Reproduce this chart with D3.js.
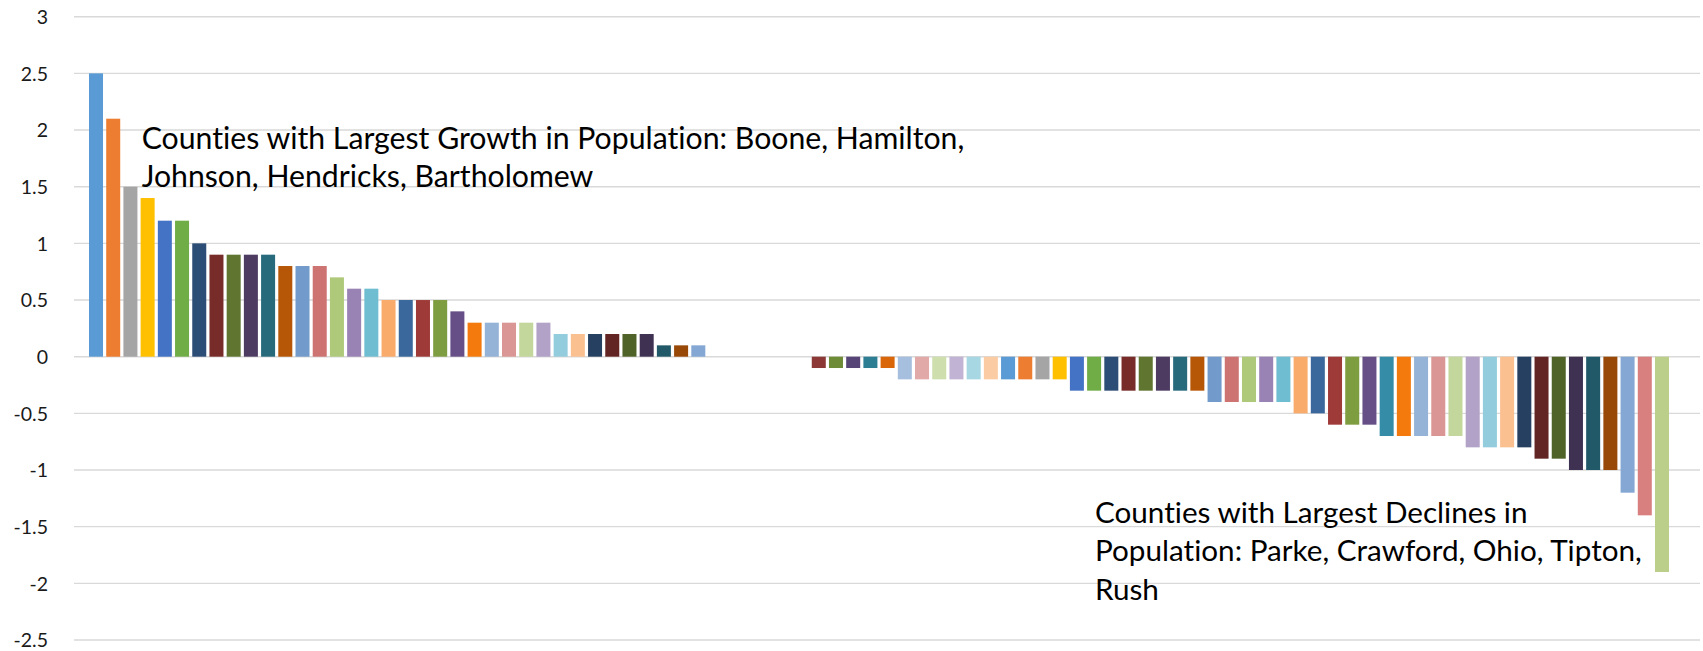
<!DOCTYPE html>
<html>
<head>
<meta charset="utf-8">
<script src="https://cdn.jsdelivr.net/npm/d3@7"></script>
<style>
  html, body { margin: 0; padding: 0; background: #fff; }
  svg { display: block; }
  text { font-variant-ligatures: none; font-feature-settings: "liga" 0, "clig" 0; }
</style>
</head>
<body>
<div id="chart"></div>
<script>
// ---- data ----
const categories = d3.range(1, 93).map(i => "County " + i);
const changeValues = [
  2.5, 2.1, 1.5, 1.4, 1.2, 1.2, 1.0, 0.9, 0.9, 0.9,
  0.9, 0.8, 0.8, 0.8, 0.7, 0.6, 0.6, 0.5, 0.5, 0.5,
  0.5, 0.4, 0.3, 0.3, 0.3, 0.3, 0.3, 0.2, 0.2, 0.2,
  0.2, 0.2, 0.2, 0.1, 0.1, 0.1, 0, 0, 0, 0,
  0, 0, -0.1, -0.1, -0.1, -0.1, -0.1, -0.2, -0.2, -0.2,
  -0.2, -0.2, -0.2, -0.2, -0.2, -0.2, -0.2, -0.3, -0.3, -0.3,
  -0.3, -0.3, -0.3, -0.3, -0.3, -0.4, -0.4, -0.4, -0.4, -0.4,
  -0.5, -0.5, -0.6, -0.6, -0.6, -0.7, -0.7, -0.7, -0.7, -0.7,
  -0.8, -0.8, -0.8, -0.8, -0.9, -0.9, -1.0, -1.0, -1.0, -1.2,
  -1.4, -1.9
];
const yTicks = [3, 2.5, 2, 1.5, 1, 0.5, 0, -0.5, -1, -1.5, -2, -2.5];
const growthNote = ["Counties with Largest Growth in Population: Boone, Hamilton,",
                    "Johnson, Hendricks, Bartholomew"];
const declineNote = ["Counties with Largest Declines in",
                     "Population: Parke, Crawford, Ohio, Tipton,",
                     "Rush"];
const barColors = [
  "#5B9BD5","#ED7D31","#A5A5A5","#FFC000","#4472C4","#70AD47","#2C4D75","#772C2A","#5F7530","#4D3B62",
  "#276A7C","#B65708","#729ACA","#CD7371","#AFC97A","#9983B5","#6FBDD1","#F9AB6B","#3A679C","#9E3B38",
  "#7E9C40","#664F86","#F47A0D","#95B3D7","#D99694","#C3D69B","#B2A2C7","#93CDDD","#FAC090","#254061",
  "#632523","#4F6228","#3F3151","#215968","#984807","#84A7D3","#D7807F","#BCCF8A","#A98FC4","#7FC6D9",
  "#F9B27C","#4A7EBB","#8C3836","#6E8B37","#574577","#2E7E93","#D9670A","#A7BFDE","#E1A9A8","#CFDEAD",
  "#C1B3D4","#A7D7E2","#FBCBA4","#5B9BD5","#ED7D31","#A5A5A5","#FFC000","#4472C4","#70AD47","#2C4D75",
  "#772C2A","#5F7530","#4D3B62","#276A7C","#B65708","#729ACA","#CD7371","#AFC97A","#9983B5","#6FBDD1",
  "#F9AB6B","#3A679C","#9E3B38","#7E9C40","#664F86","#358CA6","#F47A0D","#95B3D7","#D99694","#C3D69B",
  "#B2A2C7","#93CDDD","#FAC090","#254061","#632523","#4F6228","#3F3151","#215968","#984807","#84A7D3",
  "#D7807F","#BCCF8A"
];

// ---- layout ----
const W = 1703, H = 651;
const svg = d3.select("#chart").append("svg").attr("width", W).attr("height", H);
svg.append("rect").attr("width", W).attr("height", H).attr("fill", "#fff");

const gridLeft = 74, gridRight = 1700;
const y = d3.scaleLinear().domain([-2.5, 3]).range([640, 16.7]);
const x = d3.scaleBand().domain(categories).range([87.4, 1670.6])
  .paddingInner(0.186).paddingOuter(0.093);

// gridlines
svg.append("g").selectAll("line").data(yTicks).join("line")
  .attr("x1", gridLeft).attr("x2", gridRight)
  .attr("y1", d => y(d)).attr("y2", d => y(d))
  .attr("stroke", "#D9D9D9").attr("stroke-width", 1.4);

// y axis labels
const yAxis = d3.axisLeft(y).tickValues(yTicks).tickSize(0).tickPadding(0)
  .tickFormat(d => d3.format("")(d).replace("−", "-"));
const gy = svg.append("g").attr("transform", "translate(48,0)").call(yAxis);
gy.select(".domain").remove();
gy.selectAll("text").attr("font-family", "Lato, 'Open Sans', sans-serif")
  .attr("font-size", 19.5).attr("fill", "#1a1a1a").attr("dy", "0.35em");

// bars
svg.append("g").selectAll("rect").data(changeValues).join("rect")
  .attr("x", (d, i) => x(categories[i]))
  .attr("width", x.bandwidth())
  .attr("y", d => y(Math.max(0, d)))
  .attr("height", d => Math.abs(y(d) - y(0)))
  .attr("fill", (d, i) => barColors[i]);

// annotations
const fontFam = "Lato, 'Open Sans', sans-serif";
function fitSize(str, target) {
  const probe = svg.append("text").attr("font-family", fontFam).attr("font-size", 100).text(str);
  const w = probe.node().getComputedTextLength();
  probe.remove();
  return 100 * target / w;
}
function note(lines, x0, y0, lh, size) {
  const t = svg.append("text").attr("font-family", fontFam).attr("font-size", size).attr("fill", "#000");
  lines.forEach((s, i) => t.append("tspan").attr("x", x0).attr("y", y0 + i * lh).text(s));
  return t;
}
note(growthNote, 141.7, 149, 37.8, fitSize(growthNote[0], 823));
note(declineNote, 1095, 523, 38.3, fitSize(declineNote[1], 547));
</script>
</body>
</html>
